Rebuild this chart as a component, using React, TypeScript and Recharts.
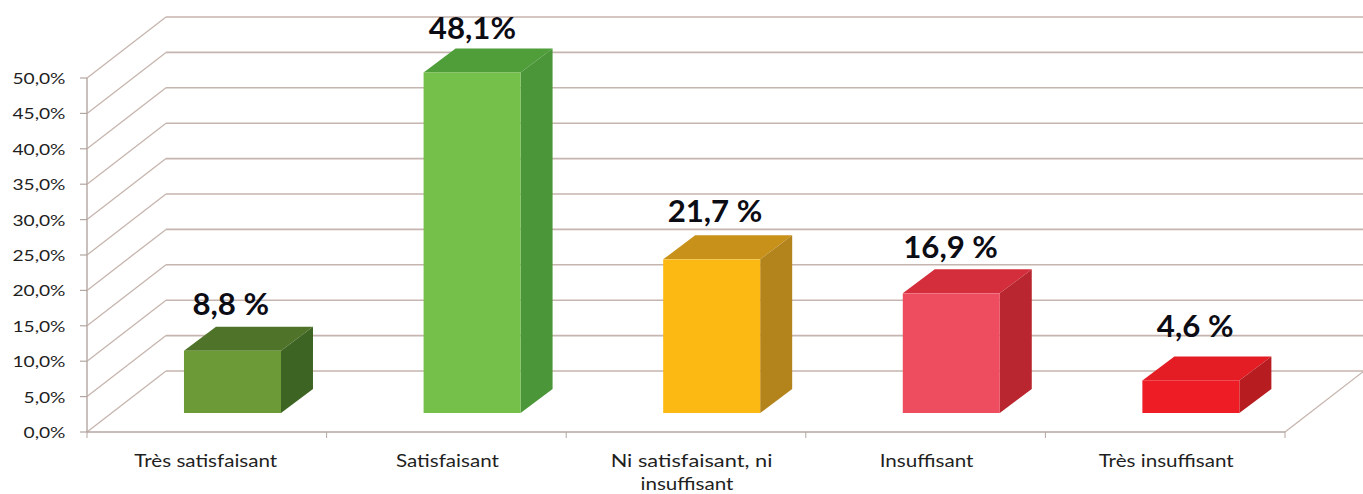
import React from "react";
import { BarChart, Bar, XAxis, YAxis, LabelList, CartesianGrid } from "recharts";

const categories = ["Très satisfaisant", "Satisfaisant", "Ni satisfaisant, ni insuffisant", "Insuffisant", "Très insuffisant"];
const values = [8.8, 48.1, 21.7, 16.9, 4.6];
const valueLabels = ["8,8 %", "48,1%", "21,7 %", "16,9 %", "4,6 %"];
const yTicks = [0, 5, 10, 15, 20, 25, 30, 35, 40, 45, 50];
const frontColors = ["#6b9a36", "#75c04b", "#fdb913", "#ee4d60", "#ee1c25"];
const topColors = ["#4f7429", "#4f9e3a", "#c8911a", "#d42e3c", "#e41c24"];
const sideColors = ["#3e6423", "#4a9639", "#b3831c", "#b9262f", "#b71c20"];

const data = categories.map((name, i) => ({ name, value: values[i], label: valueLabels[i] }));

const W = 1363, H = 494;
const LEFT = 87, RIGHT = 1285, TOP = 78, BOTTOM = 432;
const WALL_DX = 79, WALL_DY = -61;
const BAR_DX = 25.7, BAR_DY = -19, DEPTH_X = 32, DEPTH_Y = -24;
const LABEL_NUDGE = [[-1, 0], [1, 3], [4, -1], [0, 1], [5, -7]];
const LINE = "#c6b5ae", AXIS = "#b3a6a1", TEXT = "#1f1f1f";
const FONT = "Lato, sans-serif";
const STRETCH = 1.25;

const WallLine = (p: any) => {
  const y = p.y1;
  const isFloor = Math.abs(y - BOTTOM) < 1;
  return (
    <g>
      <line x1={LEFT} y1={y} x2={LEFT + WALL_DX} y2={y + WALL_DY} stroke={LINE} strokeWidth={1.3} />
      <line x1={LEFT + WALL_DX} y1={y + WALL_DY} x2={W} y2={y + WALL_DY} stroke={LINE} strokeWidth={1.6} />
      {isFloor && <line x1={RIGHT} y1={y} x2={RIGHT + WALL_DX} y2={y + WALL_DY} stroke={LINE} strokeWidth={1.3} />}
    </g>
  );
};

const YTick = (p: any) => {
  const { y, payload } = p;
  const v = payload.value as number;
  return (
    <g>
      <line x1={LEFT - 7} y1={y} x2={LEFT} y2={y} stroke={AXIS} strokeWidth={1.2} />
      <text transform={`translate(65.5 ${y + 6}) scale(1.2 1)`} textAnchor="end" fontFamily={FONT} fontSize={16} fill={TEXT}>
        {v.toFixed(1).replace(".", ",") + "%"}
      </text>
    </g>
  );
};

const XTick = (p: any) => {
  const { x, payload, index } = p;
  const band = (RIGHT - LEFT) / categories.length;
  const words = String(payload.value);
  const lines = words.includes(", ni ") ? ["Ni satisfaisant, ni", "insuffisant"] : [words];
  return (
    <g>
      <line x1={x - band / 2} y1={BOTTOM} x2={x - band / 2} y2={BOTTOM + 6} stroke={AXIS} strokeWidth={1} />
      {index === categories.length - 1 && (
        <line x1={x + band / 2} y1={BOTTOM} x2={x + band / 2} y2={BOTTOM + 6} stroke={AXIS} strokeWidth={1} />
      )}
      {lines.map((l, i) => (
        <text
          key={l}
          transform={`translate(${x + (lines.length > 1 && i === 0 ? 5.5 : index === 0 ? -1 : 1)} ${BOTTOM + 35 + i * 23}) scale(${lines.length > 1 && i === 0 ? 1.32 : STRETCH} 1)`}
          textAnchor="middle"
          fontFamily={FONT}
          fontSize={16.5}
          fill={TEXT}
        >
          {l}
        </text>
      ))}
    </g>
  );
};

const Box = (p: any) => {
  const { x, y, width, height, index } = p;
  const x0 = x + BAR_DX, y0 = y + BAR_DY;
  const x1 = x0 + width, y1 = y0 + height;
  const dx = DEPTH_X, dy = DEPTH_Y;
  return (
    <g>
      <polygon points={`${x0},${y0} ${x1},${y0} ${x1 + dx},${y0 + dy} ${x0 + dx},${y0 + dy}`} fill={topColors[index]} />
      <polygon points={`${x1},${y0} ${x1 + dx},${y0 + dy} ${x1 + dx},${y1 + dy} ${x1},${y1}`} fill={sideColors[index]} />
      <rect x={x0} y={y0} width={width} height={height} fill={frontColors[index]} />
    </g>
  );
};

const ValueLabel = (p: any) => {
  const { x, y, width, value, index } = p;
  const i = index ?? valueLabels.indexOf(value);
  const [nx, ny] = LABEL_NUDGE[i] ?? [0, 0];
  return (
    <text
      transform={`translate(${x + width / 2 + BAR_DX - 0.7 + nx} ${y + BAR_DY - 36 + ny}) scale(1.04 1)`}
      textAnchor="middle"
      fontFamily={FONT}
      fontWeight={700}
      fontSize={30}
      fill="#0c0c14"
    >
      {value}
    </text>
  );
};

export default function App() {
  return (
    <div style={{ position: "absolute", left: 0, top: 0, width: W, height: H, background: "#fff" }}>
      <BarChart
        width={W}
        height={H}
        data={data}
        margin={{ top: TOP, right: W - RIGHT, bottom: 0, left: 0 }}
        barCategoryGap="29.75%"
      >
        <CartesianGrid vertical={false} horizontal={<WallLine />} />
        <XAxis
          dataKey="name"
          height={H - BOTTOM}
          interval={0}
          tick={<XTick />}
          tickLine={false}
          axisLine={{ stroke: AXIS, strokeWidth: 1.6 }}
        />
        <YAxis
          width={LEFT}
          domain={[0, 50]}
          ticks={yTicks}
          interval={0}
          tick={<YTick />}
          tickLine={false}
          axisLine={{ stroke: AXIS, strokeWidth: 1.4 }}
        />
        <Bar dataKey="value" isAnimationActive={false} shape={<Box />}>
          <LabelList dataKey="label" content={<ValueLabel />} />
        </Bar>
      </BarChart>
    </div>
  );
}
